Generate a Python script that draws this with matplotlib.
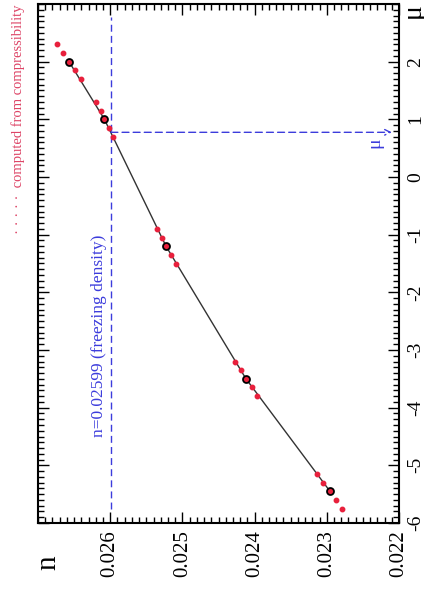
import numpy as np
import matplotlib
matplotlib.use("Agg")
import matplotlib.pyplot as plt
from matplotlib.ticker import MultipleLocator

plt.rcParams['font.family'] = ['Liberation Serif', 'DejaVu Serif']

# simulation points: chemical potential and density
mu_sim = [2.0, 1.0, -1.2, -3.5, -5.45]
n_sim = [0.02657, 0.02608, 0.025227, 0.024119, 0.022956]

# local extrapolation from the compressibility around each simulation point
mu_comp = [2.3, 2.15, 1.85, 1.7,
           1.3, 1.15, 0.85, 0.7,
           -0.9, -1.05, -1.35, -1.5,
           -3.2, -3.35, -3.65, -3.8,
           -5.15, -5.3, -5.6, -5.75]
n_comp = [0.026737, 0.026654, 0.026488, 0.026404,
          0.026197, 0.026132, 0.026017, 0.025961,
          0.025356, 0.025278, 0.025158, 0.025093,
          0.024267, 0.024188, 0.024040, 0.023963,
          0.023136, 0.023053, 0.022873, 0.022783]

n_freeze = 0.02599
mu_freeze = 0.775

n_ticks = [0.022, 0.023, 0.024, 0.025, 0.026]
mu_ticks = [-6, -5, -4, -3, -2, -1, 0, 1, 2]

red = '#e8203c'
blue = '#3c3cdc'
pink = '#dd4466'

fig = plt.figure(figsize=(4.24, 5.89), dpi=100)
ax = fig.add_axes([38 / 424, 1 - 523 / 589, 361 / 424, 519 / 589])

# the plot is drawn turned on its side: density runs right-to-left, mu bottom-to-top
ax.set_xlim(0.027, 0.022)
ax.set_ylim(-6, 3)

ax.plot(n_sim, mu_sim, color='#333333', lw=1.0, zorder=2)
ax.plot(n_comp, mu_comp, ls='none', marker='o', ms=3.2, mfc=red, mec=red,
        zorder=3)
ax.plot(n_sim, mu_sim, ls='none', marker='o', ms=5.0, mfc=red, mec='black',
        mew=1.3, zorder=4)

# freezing density and the corresponding chemical potential
ax.plot([n_freeze, n_freeze], [-5.75, 2.78], ls=(0, (5, 3)), color=blue,
        lw=1.0, zorder=1)
ax.annotate('', xy=(0.0221, mu_freeze), xytext=(n_freeze, mu_freeze),
            arrowprops=dict(arrowstyle='->', color=blue, lw=1.0,
                            ls=(0, (5, 3)), shrinkA=0, shrinkB=0))
ax.text(0.026155, -2.76, f'n={n_freeze} (freezing density)', rotation=90,
        ha='center', va='center', color=blue, fontsize=12.5)
ax.text(0.02233, 0.59, 'μ', rotation=90, ha='center', va='center',
        color=blue, fontsize=14)

ax.set_xticks(n_ticks, labels=[f'{v:.3f}' for v in n_ticks], rotation=90,
              fontsize=15)
ax.set_yticks(mu_ticks, labels=[f'{v:g}' for v in mu_ticks], rotation=90,
              va='center', fontsize=14)
ax.xaxis.set_minor_locator(MultipleLocator(0.0001))
ax.yaxis.set_minor_locator(MultipleLocator(0.1))
ax.tick_params(which='both', direction='in', top=True, bottom=True,
               left=True, right=True, labelleft=False, labelright=True,
               width=1.0)
ax.tick_params(which='major', length=8)
ax.tick_params(which='minor', length=4)
ax.tick_params(axis='x', pad=5)
ax.tick_params(axis='y', pad=6)
for s in ax.spines.values():
    s.set_linewidth(1.5)

fig.text(48 / 424, 1 - 563 / 589, 'n', rotation=90, ha='center',
         va='center', fontsize=21)
fig.text(413 / 424, 1 - 11 / 589, 'μ', rotation=90, ha='center',
         va='center', fontsize=20)
fig.text(18 / 424, 1 - 4 / 589, '· · · · ·  computed from compressibility',
         rotation=90, ha='center', va='top', color=pink, fontsize=10.5)

fig.savefig('out.png', dpi=100)
